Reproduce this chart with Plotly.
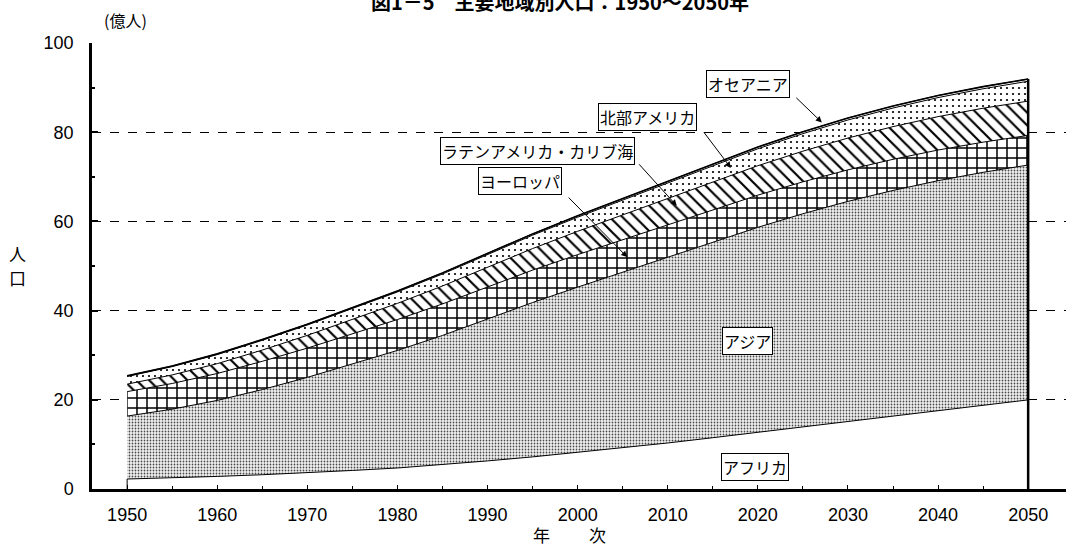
import plotly.graph_objects as go

years = [1950, 1955, 1960, 1965, 1970, 1975, 1980, 1985, 1990, 1995, 2000,
         2005, 2010, 2015, 2020, 2025, 2030, 2035, 2040, 2045, 2050]

# population, 億人 (100 million)
africa = [2.24, 2.48, 2.82, 3.20, 3.64, 4.16, 4.71, 5.45, 6.30, 7.20, 8.21,
          9.22, 10.32, 11.50, 12.71, 13.94, 15.18, 16.42, 17.65, 18.84, 19.98]
asia = [14.11, 15.42, 17.04, 19.09, 21.39, 23.93, 26.36, 28.98, 31.81, 34.61, 37.05,
        39.38, 41.66, 43.88, 45.96, 47.78, 49.31, 50.52, 51.48, 52.17, 52.66]
europe = [5.48, 5.76, 6.04, 6.34, 6.56, 6.76, 6.93, 7.07, 7.21, 7.27, 7.29,
          7.28, 7.30, 7.28, 7.22, 7.15, 7.07, 6.98, 6.87, 6.76, 6.64]
latin = [1.68, 1.92, 2.20, 2.52, 2.86, 3.24, 3.62, 4.02, 4.42, 4.83, 5.23,
         5.58, 5.94, 6.28, 6.60, 6.88, 7.13, 7.33, 7.49, 7.61, 7.69]
namerica = [1.72, 1.86, 2.04, 2.19, 2.32, 2.43, 2.56, 2.69, 2.84, 3.00, 3.16,
            3.32, 3.48, 3.64, 3.79, 3.93, 4.05, 4.17, 4.27, 4.36, 4.45]
oceania = [0.13, 0.14, 0.16, 0.18, 0.19, 0.21, 0.23, 0.25, 0.27, 0.29, 0.31,
           0.33, 0.35, 0.37, 0.39, 0.41, 0.43, 0.45, 0.46, 0.48, 0.49]

x_ticks = [1950, 1960, 1970, 1980, 1990, 2000, 2010, 2020, 2030, 2040, 2050]
y_ticks = [0, 20, 40, 60, 80, 100]

series = [
    ("アフリカ", africa, None),
    ("アジア", asia, dict(shape=".", size=3, solidity=0.28, fgcolor="#4a4a4a", bgcolor="#f2f2f2", fillmode="replace")),
    ("ヨーロッパ", europe, dict(shape="+", size=10, solidity=0.28, fgcolor="black", bgcolor="white", fillmode="replace")),
    ("ラテンアメリカ・カリブ海", latin, dict(shape="\\", size=9, solidity=0.24, fgcolor="black", bgcolor="white", fillmode="replace")),
    ("北部アメリカ", namerica, dict(shape=".", size=6, solidity=0.11, fgcolor="black", bgcolor="white", fillmode="replace")),
    ("オセアニア", oceania, None),
]

fig = go.Figure()
for name, vals, pat in series:
    kw = dict(x=years, y=vals, name=name, mode="lines", stackgroup="one",
              line=dict(color="black", width=1), fillcolor="white", hoverinfo="skip")
    if pat is not None:
        kw["fillpattern"] = pat
    fig.add_trace(go.Scatter(**kw))

# cumulative tops
cum = []
run = [0.0] * len(years)
for _, vals, _ in series:
    run = [a + b for a, b in zip(run, vals)]
    cum.append(run)
total = cum[-1]

# end edges and outer line
fig.add_trace(go.Scatter(x=[years[-1], years[-1]], y=[0, total[-1]], mode="lines",
                         line=dict(color="black", width=2.5), hoverinfo="skip", showlegend=False))
fig.add_trace(go.Scatter(x=[years[0], years[0]], y=[0, cum[0][0]], mode="lines",
                         line=dict(color="black", width=1), hoverinfo="skip", showlegend=False))
fig.add_trace(go.Scatter(x=years, y=total, mode="lines",
                         line=dict(color="black", width=1.6), hoverinfo="skip", showlegend=False))

jp = "Noto Sans CJK JP"
ann = []

def lab(text, x, y):
    ann.append(dict(text=text, x=x, y=y, xref="x", yref="y", showarrow=False,
                    xanchor="center", yanchor="middle",
                    font=dict(family=jp, size=16, color="black"),
                    bgcolor="white", bordercolor="black", borderwidth=1, borderpad=1))

def arrow(x, y, ax, ay):
    ann.append(dict(text="", x=x, y=y, xref="x", yref="y", showarrow=True,
                    ax=ax, ay=ay, arrowhead=2, arrowsize=1.2, arrowwidth=1, arrowcolor="black"))

def ptext(text, x, y, size=17, bold=False):
    ann.append(dict(text=("<b>%s</b>" % text) if bold else text, x=x, y=y,
                    xref="paper", yref="paper", showarrow=False,
                    xanchor="center", yanchor="middle",
                    font=dict(family=jp, size=size, color="black")))

lab("オセアニア", 2018.9, 90.7)
lab("北部アメリカ", 2007.8, 83.5)
lab("ラテンアメリカ・カリブ海", 1995.5, 75.7)
lab("ヨーロッパ", 1993.6, 69.0)
lab("アジア", 2018.9, 33.1)
lab("アフリカ", 2019.7, 4.9)

arrow(2027.1, 82.2, -27, -26)
arrow(2017.0, 72.0, -28, -37)
arrow(2011.0, 63.5, -39, -43)
arrow(2005.5, 52.0, -60, -61)

ptext("(億人)", 0.0339, 1.0516, 16)
ptext("人", -0.077, 0.529, 17)
ptext("口", -0.077, 0.475, 17)
ptext("年", 0.461, -0.1031, 17)
ptext("次", 0.5195, -0.1031, 17)
ptext("図1－5　主要地域別人口：1950～2050年", 0.48, 1.092, 20, bold=True)

fig.update_layout(
    width=1066, height=551,
    margin=dict(l=92, r=0, t=43, b=62),
    paper_bgcolor="white", plot_bgcolor="white",
    showlegend=False,
    annotations=ann,
    font=dict(family="Liberation Sans", size=18, color="black"),
)
fig.update_xaxes(range=[1946.1, 2054.2], tickvals=x_ticks, showgrid=False, zeroline=False,
                 showline=True, linecolor="black", linewidth=2.5, ticks="inside", ticklen=4,
                 tickcolor="black", ticklabelstandoff=8,
                 minor=dict(dtick=5, ticks="inside", ticklen=3, tickcolor="black"),
                 tickfont=dict(family="Liberation Sans", size=18))
fig.update_yaxes(range=[0, 100], tickvals=y_ticks, showgrid=True, gridcolor="black", gridwidth=1,
                 griddash="dash", zeroline=False, showline=True, linecolor="black", linewidth=2.5,
                 ticks="inside", ticklen=6, tickwidth=2, tickcolor="black", ticklabelstandoff=12,
                 minor=dict(dtick=10, ticks="inside", ticklen=3, tickcolor="black", showgrid=False),
                 tickfont=dict(family="Liberation Sans", size=18))

fig.write_html("out.html", config={"displayModeBar": False},
               post_script="document.body.style.margin='0';document.body.style.overflow='hidden';")
